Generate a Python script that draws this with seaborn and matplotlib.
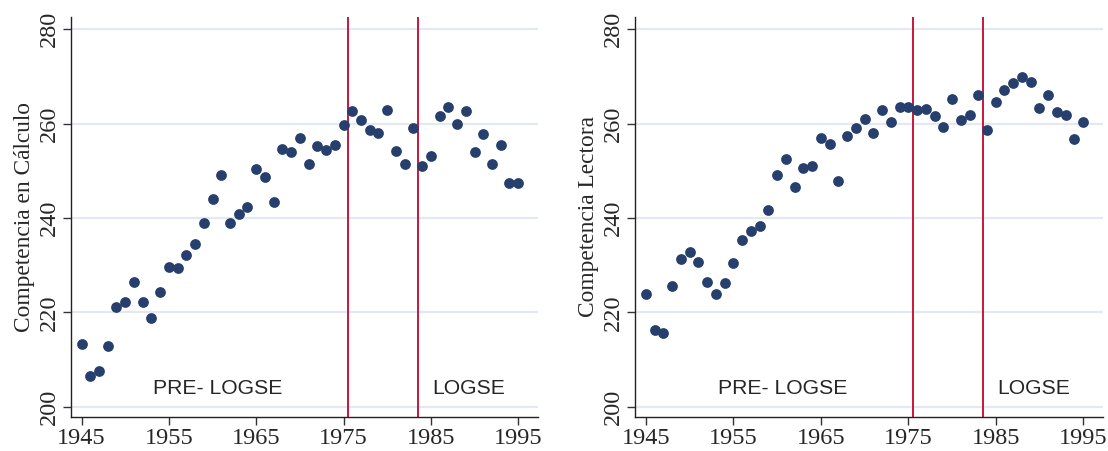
import seaborn as sns
import pandas as pd
import matplotlib
matplotlib.use("Agg")
import matplotlib.pyplot as plt

# Birth cohorts
years = list(range(1945, 1996))

# Numeracy score (left panel)
calculo = [213.3, 206.5, 207.6, 212.9, 221.1, 222.2, 226.4, 222.2, 218.8, 224.3,
           229.6, 229.4, 232.1, 234.5, 239.0, 244.1, 249.1, 239.0, 240.9, 242.3,
           250.3, 248.6, 243.4, 254.7, 253.9, 257.0, 251.4, 255.2, 254.4, 255.4,
           259.7, 262.6, 260.7, 258.6, 258.0, 262.8, 254.2, 251.5, 259.0, 251.1,
           253.2, 261.5, 263.6, 259.9, 262.7, 254.0, 257.8, 251.4, 255.5, 247.3,
           247.5]

# Literacy score (right panel)
lectora = [223.9, 216.2, 215.7, 225.5, 231.3, 232.8, 230.6, 226.4, 223.9, 226.2,
           230.4, 235.4, 237.2, 238.2, 241.7, 249.0, 252.4, 246.5, 250.6, 251.1,
           256.9, 255.6, 247.9, 257.3, 259.0, 260.9, 257.9, 262.8, 260.3, 263.5,
           263.6, 262.9, 263.1, 261.6, 259.3, 265.2, 260.8, 261.8, 266.1, 258.6,
           264.5, 267.1, 268.5, 269.9, 268.8, 263.3, 266.1, 262.4, 261.9, 256.7,
           260.3]

ylabels = ["Competencia en Cálculo", "Competencia Lectora"]
xticks = [1945, 1955, 1965, 1975, 1985, 1995]
yticks = [200, 220, 240, 260, 280]
cutoffs = [1975.5, 1983.5]
period_labels = ["PRE- LOGSE", "LOGSE"]
label_x = [1953.2, 1985.2]

df = pd.DataFrame({"year": years, "calculo": calculo, "lectora": lectora})

sns.set_style("white")
fig = plt.figure(figsize=(11.08, 4.51), dpi=100)
ax1 = fig.add_axes([0.0641, 0.0761, 0.4217, 0.8855])
ax2 = fig.add_axes([0.5734, 0.0761, 0.4224, 0.8855])

for ax, col, ylab in zip([ax1, ax2], ["calculo", "lectora"], ylabels):
    for v in yticks:
        ax.axhline(v, color="#e3e8f1", lw=1.6, zorder=0)
    sns.scatterplot(data=df, x="year", y=col, ax=ax, color="#263f6d",
                    s=60, linewidth=0, zorder=3)
    for c in cutoffs:
        ax.axvline(c, color="#c8163c", lw=1.4, zorder=2)
    for txt, xx in zip(period_labels, label_x):
        ax.text(xx, 203.9, txt, fontsize=15.2, family="Liberation Sans",
                va="center", ha="left")
    ax.set_xlim(1943.8, 1997.3)
    ax.set_ylim(197.9, 282.5)
    ax.set_xticks(xticks)
    ax.set_yticks(yticks)
    ax.set_xticklabels([str(t) for t in xticks], family="Liberation Serif",
                       fontsize=17.5)
    ax.set_yticklabels([str(t) for t in yticks], family="Liberation Serif",
                       fontsize=17.5, rotation=90, va="center")
    ax.set_xlabel("")
    ax.set_ylabel(ylab, family="Liberation Serif", fontsize=16.8, labelpad=3)
    ax.tick_params(axis="both", direction="out", length=6, width=1,
                   color="#333333", pad=2)
    ax.tick_params(left=True, bottom=True)
    for side in ["top", "right"]:
        ax.spines[side].set_visible(False)
    for side in ["left", "bottom"]:
        ax.spines[side].set_color("#222222")
        ax.spines[side].set_linewidth(1)

fig.savefig("out.png", dpi=100)
